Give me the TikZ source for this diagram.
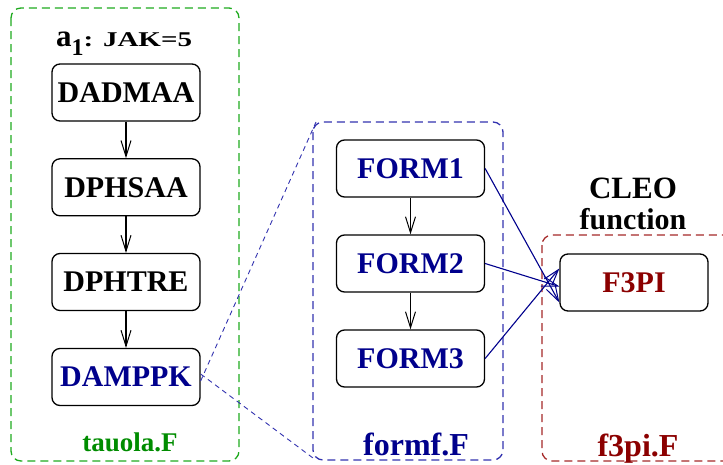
\documentclass[tikz,border=0pt]{standalone}
\usepackage{fontspec}
\setmainfont{Liberation Serif}
\usepackage{xcolor}
\usepackage{graphicx}
\usetikzlibrary{arrows.meta}
\definecolor{grbox}{RGB}{30,170,30}
\definecolor{grtext}{RGB}{0,140,0}
\definecolor{bluebox}{RGB}{50,50,175}
\definecolor{navy}{RGB}{0,0,140}
\definecolor{redbox}{RGB}{165,40,40}
\definecolor{redtext}{RGB}{139,0,0}
\newcommand{\bigtxt}{\fontsize{30}{36}\selectfont\bfseries}
\newcommand{\labtxt}{\fontsize{32}{32}\selectfont\bfseries}
\tikzset{
  routine/.style={draw,rounded corners=8pt,line width=1.3pt,minimum width=148pt,
    minimum height=57pt,inner sep=0pt,font=\bigtxt},
  filebox/.style={rounded corners=10pt,line width=1.3pt,dash pattern=on 8pt off 5pt},
  filename/.style={anchor=base,inner sep=0pt,font=\labtxt},
  vee/.style={-{Straight Barb[length=16pt,width=10pt,line width=1pt]},line width=1.1pt}
}
\begin{document}
\begin{tikzpicture}[x=1pt,y=-1pt]
\useasboundingbox (0,0) rectangle (723,464);

%files
\draw [filebox,color=grbox] (11,8) rectangle (239,461);
\draw [filebox,color=bluebox] (313,122) rectangle (503,460);
\draw [filebox,color=redbox] (542,235) rectangle (740,461);

%tauola.F
\node [anchor=base west,inner sep=0pt,font=\bfseries] (title) at (56,46) {{\fontsize{31}{31}\selectfont a}\raisebox{-9pt}{\fontsize{24}{24}\selectfont 1}\scalebox{1.45}[1.05]{\fontsize{20}{20}\selectfont: JAK=5}};
\node [routine] (dadmaa) at (126,92.5) {DADMAA};
\node [routine] (dphsaa) at (126,187.3) {DPHSAA};
\node [routine] (dphtre) at (126,282) {DPHTRE};
\node [routine,text=navy] (damppk) at (126,377) {DAMPPK};
\node [filename,text=grtext,font=\fontsize{27}{27}\selectfont\bfseries] (tauola) at (130,451) {tauola.F};
\draw [vee] (dadmaa) -- (dphsaa);
\draw [vee] (dphsaa) -- (dphtre);
\draw [vee] (dphtre) -- (damppk);

%formf.F
\node [routine,text=navy] (form1) at (410.5,168.5) {FORM1};
\node [routine,text=navy] (form2) at (410.5,263.5) {FORM2};
\node [routine,text=navy] (form3) at (410.5,358.5) {FORM3};
\node [filename,text=navy] (formf) at (416,455) {formf.F};
\draw [vee] (form1) -- (form2);
\draw [vee] (form2) -- (form3);

%zoom lines
\coordinate (zoomtop) at (316,122);
\coordinate (zoombot) at (313,458);
\draw [color=bluebox,line width=0.9pt,dash pattern=on 5pt off 4pt] ([yshift=-4pt]damppk.east) -- (zoomtop);
\draw [color=bluebox,line width=0.9pt,dash pattern=on 5pt off 4pt] ([yshift=3pt]damppk.east) -- (zoombot);

%f3pi.F
\node [anchor=base,font=\fontsize{31}{31}\selectfont\bfseries,inner sep=0pt] (cleo) at (633,198) {CLEO};
\node [anchor=base,font=\fontsize{30}{30}\selectfont\bfseries,inner sep=0pt] (func) at (633,229) {function};
\node [routine,text=redtext] (f3pi) at (634,282.5) {F3PI};
\node [filename,text=redtext] (f3pif) at (638,456) {f3pi.F};
\draw [vee,color=navy] (form1.east) -- ([yshift=-20pt]f3pi.west);
\draw [vee,color=navy] (form2.east) -- ([yshift=-4pt]f3pi.west);
\draw [vee,color=navy] (form3.east) -- ([yshift=14pt]f3pi.west);
\end{tikzpicture}
\end{document}
